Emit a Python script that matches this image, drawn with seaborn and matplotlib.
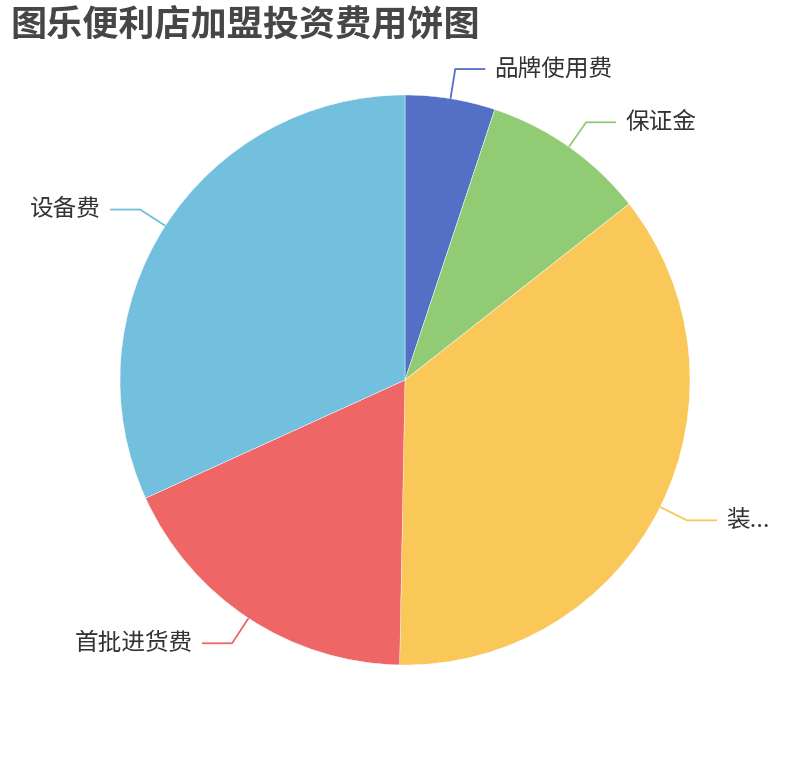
import numpy as np
import matplotlib
matplotlib.use("Agg")
import matplotlib.pyplot as plt
import seaborn as sns

# data (shares in %)
labels = ["品牌使用费", "保证金", "装...", "首批进货费", "设备费"]
values = [5.1, 9.3, 35.9, 17.9, 31.8]
colors = ["#5470c6", "#91cc75", "#fac858", "#ee6666", "#73c0de"]
title = "图乐便利店加盟投资费用饼图"

sns.set_style("white")
plt.rcParams['font.family'] = ['Noto Sans CJK SC', 'DejaVu Sans']

W, H = 810, 760
fig = plt.figure(figsize=(W / 100, H / 100), dpi=100)
ax = fig.add_axes([0, 0, 1, 1])

cx, cy, r = 405, H - 380, 285
wedges, _ = ax.pie(values, colors=colors, startangle=90, counterclock=False,
                   center=(cx, cy), radius=r, normalize=True,
                   wedgeprops=dict(linewidth=0.3, edgecolor='white'))
ax.set_xlim(0, W)
ax.set_ylim(0, H)
ax.set_aspect('equal')
ax.axis('off')

# label lines: radial piece then horizontal piece
len1, len2 = 30, 30
for w, lab, col in zip(wedges, labels, colors):
    ang = np.deg2rad((w.theta1 + w.theta2) / 2)
    x0, y0 = cx + r * np.cos(ang), cy + r * np.sin(ang)
    x1, y1 = cx + (r + len1) * np.cos(ang), cy + (r + len1) * np.sin(ang)
    side = 1 if np.cos(ang) >= 0 else -1
    x2 = x1 + side * len2
    ax.plot([x0, x1, x2], [y0, y1, y1], color=col, lw=1.3, solid_capstyle='butt')
    ax.text(x2 + side * 9, y1, lab, ha='left' if side > 0 else 'right',
            va='center', fontsize=17, color='#333333')

fig.text(10 / W, 1 - 25 / H, title, ha='left', va='center',
         fontsize=26, fontweight='bold', color='#464646')

plt.savefig("out.png", dpi=100)
plt.close()
